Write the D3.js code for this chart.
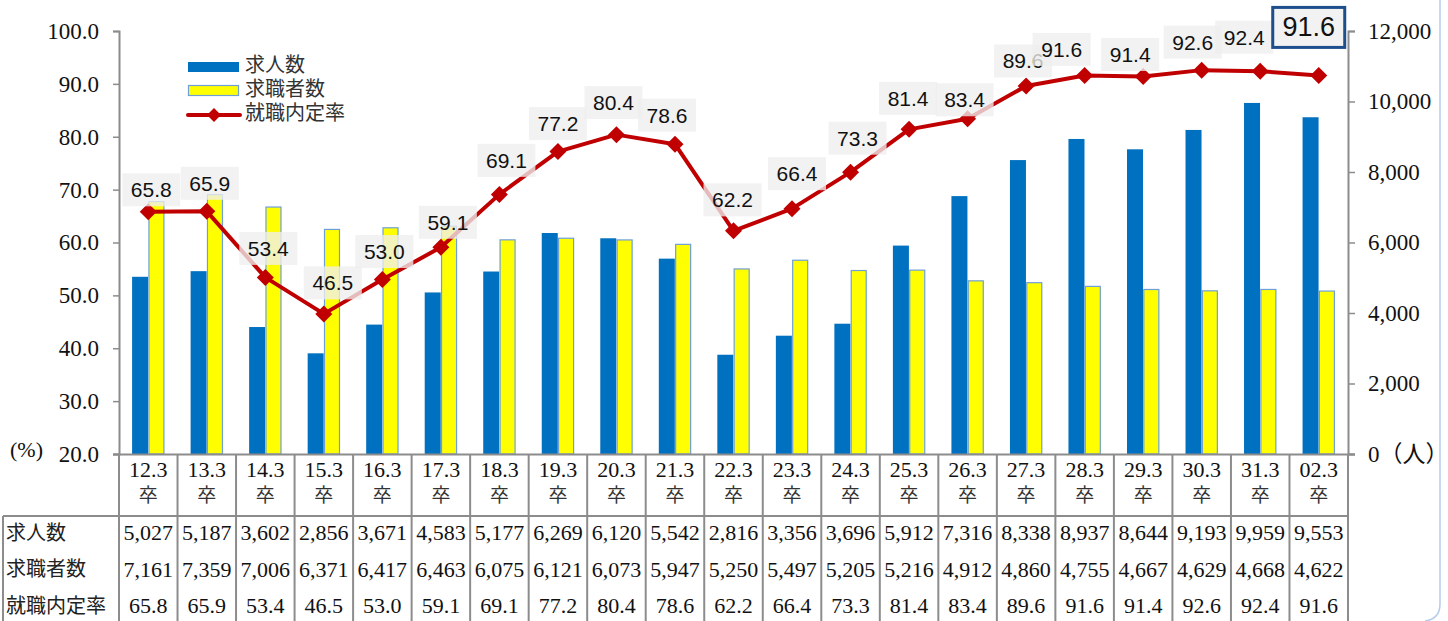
<!DOCTYPE html>
<html>
<head>
<meta charset="utf-8">
<script src="https://cdn.jsdelivr.net/npm/d3@7"></script>
<style>
  body { margin: 0; background: #fff; }
  svg { display: block; }
</style>
</head>
<body>
<div id="chart"></div>
<script>
// data
const categories = ["12.3", "13.3", "14.3", "15.3", "16.3", "17.3", "18.3", "19.3", "20.3", "21.3", "22.3",
  "23.3", "24.3", "25.3", "26.3", "27.3", "28.3", "29.3", "30.3", "31.3", "02.3"];
const jobOffers = [5027, 5187, 3602, 2856, 3671, 4583, 5177, 6269, 6120, 5542, 2816,
  3356, 3696, 5912, 7316, 8338, 8937, 8644, 9193, 9959, 9553];
const jobSeekers = [7161, 7359, 7006, 6371, 6417, 6463, 6075, 6121, 6073, 5947, 5250,
  5497, 5205, 5216, 4912, 4860, 4755, 4667, 4629, 4668, 4622];
const offerRate = [65.8, 65.9, 53.4, 46.5, 53.0, 59.1, 69.1, 77.2, 80.4, 78.6, 62.2,
  66.4, 73.3, 81.4, 83.4, 89.6, 91.6, 91.4, 92.6, 92.4, 91.6];
const seriesNames = ["求人数", "求職者数", "就職内定率"];
const leftTicks = [20, 30, 40, 50, 60, 70, 80, 90, 100];
const rightTicks = [0, 2000, 4000, 6000, 8000, 10000, 12000];

// label placement (offset from the marker), as in the reference
const labelShift = [[3, -22], [3, -28], [3, -29], [9, -31], [2, -28], [7, -25], [7, -34], [0, -28], [-3, -32],
  [-8, -29], [-1, -31], [5, -35], [7, -34], [-1, -31], [-3, -19], [-3, -25], [-23, -26], [-13, -22],
  [-9, -28], [-16, -34], [-10, -48]];

const width = 1448, height = 621;
const plotLeft = 119, plotRight = 1348, plotTop = 31, plotBottom = 454;
const serif = "'Liberation Serif', 'Times New Roman', 'DejaVu Serif', serif";
// latin metrics, CJK glyphs fall back to Noto
const jpText = "'Liberation Serif', 'Noto Sans CJK JP', sans-serif";
const sans = "'Liberation Sans', Arial, sans-serif";
const gridGray = "#8c8c8c";

const svg = d3.select("#chart").append("svg")
  .attr("width", width)
  .attr("height", height);

const x = d3.scaleBand().domain(categories).range([plotLeft, plotRight]).padding(0);
const series = d3.scaleBand().domain(["offers", "seekers"]).range([-16.5, 16.5]).padding(0.02);
const yRate = d3.scaleLinear().domain([20, 100]).range([plotBottom, plotTop]);
const yCount = d3.scaleLinear().domain([0, 12000]).range([plotBottom, plotTop]);

// outer frame edge on the right
svg.append("path")
  .attr("d", "M1440,0 L1440,604 Q1440,619 1425,621")
  .attr("fill", "none")
  .attr("stroke", "#b4cbea")
  .attr("stroke-width", 1.5);

// bars
const groups = svg.selectAll(".cat")
  .data(categories)
  .enter()
  .append("g")
  .attr("transform", d => `translate(${x(d) + x.bandwidth() / 2},0)`);

groups.append("rect")
  .attr("x", series("offers"))
  .attr("width", series.bandwidth())
  .attr("y", (d, i) => yCount(jobOffers[i]))
  .attr("height", (d, i) => plotBottom - yCount(jobOffers[i]))
  .attr("fill", "#0070c0");

groups.append("rect")
  .attr("x", series("seekers") + 0.5)
  .attr("width", series.bandwidth() - 1)
  .attr("y", (d, i) => yCount(jobSeekers[i]))
  .attr("height", (d, i) => plotBottom - yCount(jobSeekers[i]))
  .attr("fill", "#ffff00")
  .attr("stroke", "#6e9fd9")
  .attr("stroke-width", 1.2);

// axes
const leftAxis = svg.append("g")
  .attr("transform", `translate(${plotLeft},0)`)
  .call(d3.axisLeft(yRate).tickValues(leftTicks).tickFormat(d => d.toFixed(1)).tickSize(6).tickPadding(14));

const rightAxis = svg.append("g")
  .attr("transform", `translate(${plotRight},0)`)
  .call(d3.axisRight(yCount).tickValues(rightTicks).tickFormat(d3.format(",")).tickSize(7).tickPadding(13));

[leftAxis, rightAxis].forEach(a => {
  a.select(".domain").attr("stroke", gridGray).attr("stroke-width", 2);
  a.selectAll(".tick line").attr("stroke", gridGray).attr("stroke-width", 1.5);
  a.selectAll(".tick text")
    .style("font-family", jpText)
    .style("font-size", "23px")
    .attr("fill", "#111");
});
rightAxis.selectAll(".tick text").filter(d => d === 0).text("0（人）");

svg.append("text")
  .attr("x", 10)
  .attr("y", 452)
  .attr("dominant-baseline", "middle")
  .style("font-family", serif)
  .style("font-size", "22px")
  .attr("fill", "#111")
  .text("(%)");

// bottom axis line
svg.append("line")
  .attr("x1", plotLeft - 6).attr("x2", plotRight + 7)
  .attr("y1", plotBottom + 0.5).attr("y2", plotBottom + 0.5)
  .attr("stroke", gridGray).attr("stroke-width", 2);

// data table
const rowTop = 516, rowH = 36.7, tableBottom = 640;
const table = svg.append("g");

table.append("line")
  .attr("x1", 3).attr("x2", plotRight)
  .attr("y1", rowTop).attr("y2", rowTop)
  .attr("stroke", gridGray).attr("stroke-width", 2);
table.append("line")
  .attr("x1", 3).attr("x2", 3)
  .attr("y1", rowTop).attr("y2", tableBottom)
  .attr("stroke", gridGray).attr("stroke-width", 2);
table.selectAll(".vline")
  .data(categories.concat(["end"]))
  .enter()
  .append("line")
  .attr("x1", (d, i) => plotLeft + i * x.step())
  .attr("x2", (d, i) => plotLeft + i * x.step())
  .attr("y1", plotBottom)
  .attr("y2", tableBottom)
  .attr("stroke", gridGray)
  .attr("stroke-width", 2);

groups.append("text")
  .attr("y", 472)
  .attr("text-anchor", "middle")
  .attr("dominant-baseline", "middle")
  .style("font-family", serif)
  .style("font-size", "22px")
  .attr("fill", "#111")
  .text(d => d);
groups.append("text")
  .attr("y", 498)
  .attr("text-anchor", "middle")
  .attr("dominant-baseline", "middle")
  .style("font-family", jpText)
  .style("font-size", "19px")
  .attr("fill", "#333")
  .text("卒");

const rows = [
  { name: seriesNames[0], values: jobOffers.map(d3.format(",")) },
  { name: seriesNames[1], values: jobSeekers.map(d3.format(",")) },
  { name: seriesNames[2], values: offerRate.map(d => d.toFixed(1)) }
];

rows.forEach((row, r) => {
  const cy = rowTop + 19 + r * rowH;
  table.append("text")
    .attr("x", 6)
    .attr("y", cy)
    .attr("dominant-baseline", "middle")
    .style("font-family", jpText)
    .style("font-size", "20px")
    .attr("fill", "#222")
    .text(row.name);
  table.selectAll(".cell" + r)
    .data(row.values)
    .enter()
    .append("text")
    .attr("x", (d, i) => x(categories[i]) + x.bandwidth() / 2)
    .attr("y", cy)
    .attr("text-anchor", "middle")
    .attr("dominant-baseline", "middle")
    .style("font-family", serif)
    .style("font-size", "22px")
    .attr("fill", "#111")
    .text(d => d);
});

// rate line
const cx = i => x(categories[i]) + x.bandwidth() / 2;
const line = d3.line()
  .x((d, i) => cx(i))
  .y(d => yRate(d));

svg.append("path")
  .datum(offerRate)
  .attr("d", line)
  .attr("fill", "none")
  .attr("stroke", "#c00000")
  .attr("stroke-width", 4)
  .attr("stroke-linejoin", "round");

svg.selectAll(".marker")
  .data(offerRate)
  .enter()
  .append("path")
  .attr("transform", (d, i) => `translate(${cx(i)},${yRate(d)})`)
  .attr("d", "M0,-8.5L8.5,0L0,8.5L-8.5,0Z")
  .attr("fill", "#c00000");

// value labels
const last = offerRate.length - 1;
const labels = svg.selectAll(".rate-label")
  .data(offerRate)
  .enter()
  .append("g")
  .attr("transform", (d, i) => `translate(${cx(i) + labelShift[i][0]},${yRate(d) + labelShift[i][1]})`);

labels.append("rect")
  .attr("x", (d, i) => i === last ? -36 : -29)
  .attr("y", (d, i) => i === last ? -20 : -16.5)
  .attr("width", (d, i) => i === last ? 72 : 58)
  .attr("height", (d, i) => i === last ? 40 : 33)
  .attr("fill", "rgba(238,238,238,0.78)")
  .attr("stroke", (d, i) => i === last ? "#1f4e8c" : "none")
  .attr("stroke-width", 3);

labels.append("text")
  .attr("text-anchor", "middle")
  .attr("dominant-baseline", "central")
  .style("font-family", sans)
  .style("font-size", (d, i) => i === last ? "27px" : "21px")
  .attr("fill", "#111")
  .text(d => d.toFixed(1));

// legend
const legend = svg.append("g").attr("transform", "translate(188,0)");
legend.append("rect")
  .attr("x", 0).attr("y", 62).attr("width", 51).attr("height", 10)
  .attr("fill", "#0070c0");
legend.append("rect")
  .attr("x", 0.5).attr("y", 85.5).attr("width", 50).attr("height", 10)
  .attr("fill", "#ffff00").attr("stroke", "#6e9fd9").attr("stroke-width", 1.2);
legend.append("line")
  .attr("x1", 0).attr("x2", 52).attr("y1", 115).attr("y2", 115)
  .attr("stroke", "#c00000").attr("stroke-width", 4).attr("stroke-linecap", "round");
legend.append("path")
  .attr("transform", "translate(26,115)")
  .attr("d", "M0,-7L7,0L0,7L-7,0Z")
  .attr("fill", "#c00000");
legend.selectAll(".legend-text")
  .data(seriesNames)
  .enter()
  .append("text")
  .attr("x", 57)
  .attr("y", (d, i) => 67 + i * 24)
  .attr("dominant-baseline", "middle")
  .style("font-family", jpText)
  .style("font-size", "20px")
  .attr("fill", "#333")
  .text(d => d);
</script>
</body>
</html>
